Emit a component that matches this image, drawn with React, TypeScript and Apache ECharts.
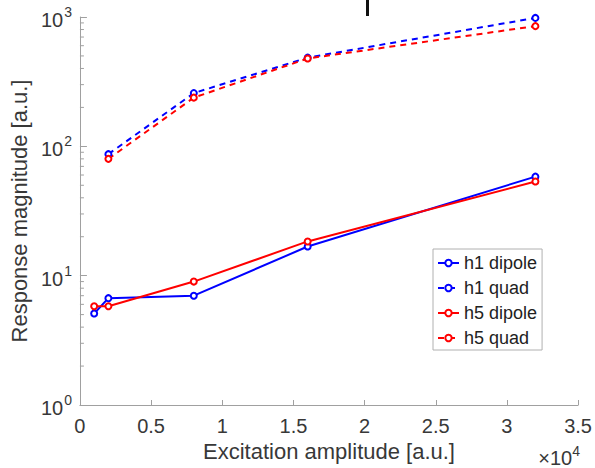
import React, { useEffect, useRef } from "react";
import * as echarts from "echarts";

const X_VALUES = [1000, 2000, 8000, 16000, 32000];
const X_QUAD = [2000, 8000, 16000, 32000];
const H1_DIPOLE = [5.1, 6.7, 7.0, 16.8, 58.3];
const H5_DIPOLE = [5.8, 5.8, 9.0, 18.4, 53.4];
const H1_QUAD = [87, 258, 485, 984];
const H5_QUAD = [80, 238, 478, 850];
const X_TICK_LABELS = ["0", "0.5", "1", "1.5", "2", "2.5", "3", "3.5"];
const Y_MINOR_TICKS = [2, 3, 4, 5, 6, 7, 8, 9, 20, 30, 40, 50, 60, 70, 80, 90, 200, 300, 400, 500, 600, 700, 800, 900];
const SERIES_NAMES = ["h1 dipole", "h1 quad", "h5 dipole", "h5 quad"];

const FONT = "'Liberation Sans', Arial, Helvetica, sans-serif";
const TEXT = "#383838";
const AXIS = "#a0a0a0";
const BLUE = "#0000ff";
const RED = "#ff0000";

function pairs(xs: number[], ys: number[]) {
  return xs.map((x, i) => [x, ys[i]]);
}

export default function App() {
  const ref = useRef<HTMLDivElement>(null);
  useEffect(() => {
    if (!ref.current) return;
    const chart = echarts.init(ref.current, null, { renderer: "svg" });
    const lineSeries = (name: string, xs: number[], ys: number[], color: string, dashed: boolean) => ({
      name,
      type: "line",
      data: pairs(xs, ys),
      symbol: "emptyCircle",
      symbolSize: 6,
      showAllSymbol: true,
      lineStyle: { color, width: 2, type: dashed ? [6, 5] : "solid" },
      itemStyle: { color, borderColor: color, borderWidth: 1.6 },
      z: 3,
    });
    chart.setOption({
      animation: false,
      backgroundColor: "#ffffff",
      textStyle: { fontFamily: FONT },
      grid: { left: 76, right: 15, top: 17, bottom: 63, containLabel: false },
      legend: {
        data: SERIES_NAMES,
        orient: "vertical",
        left: 433,
        top: 249,
        backgroundColor: "#ffffff",
        borderColor: "#b0b0b0",
        borderWidth: 1,
        padding: [4, 5, 2, 4],
        itemGap: 5,
        itemWidth: 21,
        itemHeight: 8,
        textStyle: { fontSize: 18, color: "#222", fontFamily: FONT, lineHeight: 20 },
      },
      xAxis: {
        type: "value",
        min: 0,
        max: 35000,
        interval: 5000,
        name: "Excitation amplitude [a.u.]",
        nameLocation: "middle",
        nameGap: 26,
        nameTextStyle: { fontSize: 22, color: TEXT, fontFamily: FONT },
        axisLine: { show: true, lineStyle: { color: AXIS, width: 1 } },
        axisTick: { show: true, inside: true, length: 5, lineStyle: { color: AXIS } },
        axisLabel: {
          fontSize: 20,
          color: TEXT,
          margin: 11,
          fontFamily: FONT,
          formatter: (v: number) => X_TICK_LABELS[Math.round(v / 5000)],
        },
        splitLine: { show: false },
      },
      yAxis: {
        type: "log",
        logBase: 10,
        min: 1,
        max: 1000,
        interval: 1,
        name: "Response magnitude [a.u.]",
        nameLocation: "middle",
        nameGap: 41,
        nameRotate: 90,
        nameTextStyle: { fontSize: 22, color: TEXT, fontFamily: FONT },
        axisLine: { show: true, lineStyle: { color: AXIS, width: 1 } },
        axisTick: { show: true, inside: true, length: 7, lineStyle: { color: AXIS } },
        axisLabel: {
          margin: 8,
          color: TEXT,
          fontFamily: FONT,
          formatter: (v: number) => `{b|10}{s|${Math.round(Math.log10(v))}}`,
          rich: {
            b: { fontSize: 20, color: TEXT, fontFamily: FONT, verticalAlign: "bottom", lineHeight: 26 },
            s: { fontSize: 14, color: TEXT, fontFamily: FONT, verticalAlign: "bottom", padding: [0, 0, 11, 1], lineHeight: 14 },
          },
        },
        splitLine: { show: false },
      },
      graphic: [
        {
          type: "text",
          right: 15,
          top: 444,
          style: {
            text: "{a|×10}{b|4}",
            fill: TEXT,
            rich: {
              a: { fontSize: 20, fontFamily: FONT, fill: TEXT, color: TEXT, verticalAlign: "bottom", lineHeight: 24 },
              b: { fontSize: 14, fontFamily: FONT, fill: TEXT, color: TEXT, verticalAlign: "bottom", padding: [0, 0, 10, 0], lineHeight: 14 },
            },
          },
        },
        {
          type: "rect",
          shape: { x: 366, y: 0, width: 3, height: 16 },
          style: { fill: "#111" },
        },
      ],
      series: [
        lineSeries("h1 dipole", X_VALUES, H1_DIPOLE, BLUE, false),
        lineSeries("h1 quad", X_QUAD, H1_QUAD, BLUE, true),
        lineSeries("h5 dipole", X_VALUES, H5_DIPOLE, RED, false),
        lineSeries("h5 quad", X_QUAD, H5_QUAD, RED, true),
        {
          name: "minorTicks",
          type: "custom",
          silent: true,
          clip: false,
          data: Y_MINOR_TICKS.map((v) => [0, v]),
          renderItem: (params: any, api: any) => {
            const p = api.coord([0, api.value(1)]);
            return {
              type: "line",
              shape: { x1: p[0], y1: p[1], x2: p[0] + 4, y2: p[1] },
              style: { stroke: AXIS, lineWidth: 1 },
            };
          },
          z: 1,
        },
      ],
    });
    return () => chart.dispose();
  }, []);
  return <div ref={ref} style={{ position: "absolute", left: 0, top: 0, width: 595, height: 468 }} />;
}
